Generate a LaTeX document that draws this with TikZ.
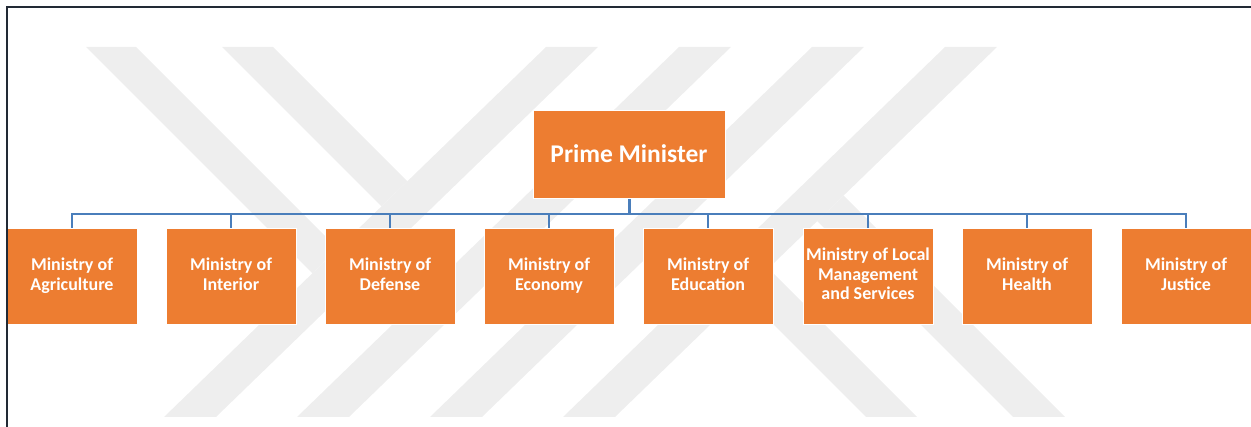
\documentclass[tikz,border=0pt]{standalone}
\usepackage{fontspec}
\setmainfont{Carlito}
\definecolor{boxorange}{HTML}{ED7D31}
\definecolor{linkblue}{HTML}{4A7EBB}
\definecolor{framedark}{HTML}{222A35}
\definecolor{wmark}{HTML}{EEEEEE}

\begin{document}
\begin{tikzpicture}[x=1pt,y=-1pt,
	ministry/.style={draw=white,line width=1pt,fill=boxorange,text=white,
		font=\fontsize{18}{19.5}\selectfont\bfseries,align=center,
		minimum width=130pt,minimum height=96pt,inner sep=0pt,
		execute at begin node={\rule{0pt}{18.5pt}},execute at end node=\strut},
	chief/.style={ministry,minimum width=192pt,minimum height=88pt,
		font=\fontsize{25.5}{30}\selectfont\bfseries,
		execute at begin node={\rule{0pt}{25pt}}},
	link/.style={draw=linkblue,line width=2pt},
	stripe/.style={fill=wmark}]
		\useasboundingbox (0,0) rectangle (1251,427);

		% watermark
		\fill [stripe] ( 164, 417 ) -- ( 216, 417 ) -- ( 598, 47 ) -- ( 546, 47 ) -- cycle;
		\fill [stripe] ( 297, 417 ) -- ( 349, 417 ) -- ( 731, 47 ) -- ( 679, 47 ) -- cycle;
		\fill [stripe] ( 430, 417 ) -- ( 482, 417 ) -- ( 864, 47 ) -- ( 812, 47 ) -- cycle;
		\fill [stripe] ( 563, 417 ) -- ( 615, 417 ) -- ( 997, 47 ) -- ( 945, 47 ) -- cycle;
		\fill [stripe] (  86,  47 ) -- ( 136,  47 ) -- ( 337.7, 248.7 ) -- ( 312.3, 273.3 ) -- cycle;
		\fill [stripe] ( 222,  47 ) -- ( 273,  47 ) -- ( 407.3, 181.3 ) -- ( 381.4, 206.4 ) -- cycle;
		\fill [stripe] ( 866, 417 ) -- ( 917, 417 ) -- ( 768.4, 268.4 ) -- ( 742.5, 293.5 ) -- cycle;
		\fill [stripe] ( 1013, 417 ) -- ( 1065, 417 ) -- ( 843.6, 195.6 ) -- ( 817.2, 221.2 ) -- cycle;

		% head
		\node [chief] (pm) at ( 629, 155 ) {Prime Minister};
		\coordinate (bus) at ( 629, 214.5 );

		% ministries
		\node [ministry] (agr) at (   72, 277 ) {Ministry of\\Agriculture};
		\node [ministry] (int) at (  231, 277 ) {Ministry of\\Interior};
		\node [ministry] (def) at (  390, 277 ) {Ministry of\\Defense};
		\node [ministry] (eco) at (  549, 277 ) {Ministry of\\Economy};
		\node [ministry] (edu) at (  708, 277 ) {Ministry of\\Education};
		\node [ministry] (loc) at (  868, 277 ) {Ministry of Local\\Management\\and Services};
		\node [ministry] (hea) at ( 1027, 277 ) {Ministry of\\Health};
		\node [ministry] (jus) at ( 1186, 277 ) {Ministry of\\Justice};

		% links
		\draw [link] (pm.south) -- (bus) -| (agr.north);
		\draw [link] (pm.south) -- (bus) -| (int.north);
		\draw [link] (pm.south) -- (bus) -| (def.north);
		\draw [link] (pm.south) -- (bus) -| (eco.north);
		\draw [link] (pm.south) -- (bus) -| (edu.north);
		\draw [link] (pm.south) -- (bus) -| (loc.north);
		\draw [link] (pm.south) -- (bus) -| (hea.north);
		\draw [link] (pm.south) -- (bus) -| (jus.north);
		\draw [link, line width=3pt] (pm.south) -- (bus);

		% frame
		\draw [framedark, line width=2pt] ( 7, 427 ) -- ( 7, 7 ) -- ( 1251, 7 );
	\end{tikzpicture}
\end{document}
